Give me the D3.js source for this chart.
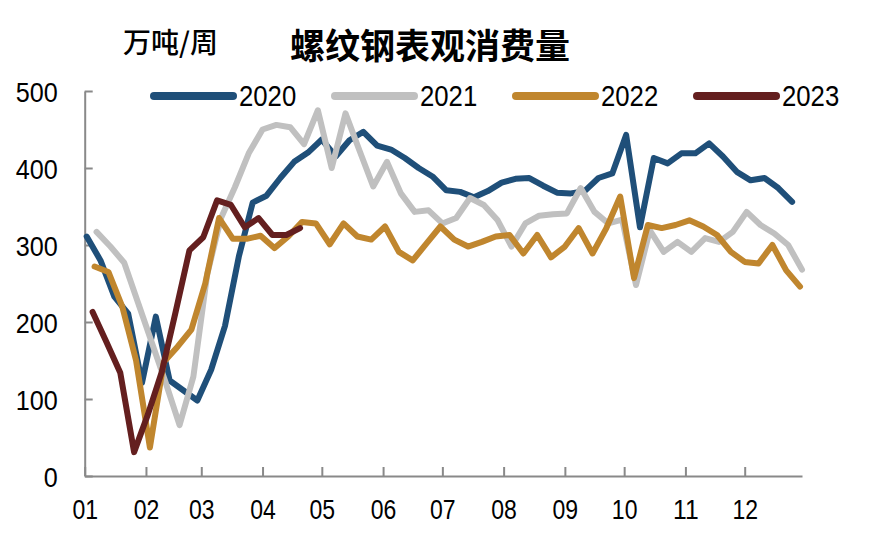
<!DOCTYPE html>
<html>
<head>
<meta charset="utf-8">
<script src="https://cdn.jsdelivr.net/npm/d3@7/dist/d3.min.js"></script>
<style>
  html, body { margin: 0; padding: 0; background: #fff; }
  svg { display: block; }
  .num { font-family: "Liberation Sans", Arial, sans-serif; }
</style>
</head>
<body>
<svg id="chart" width="874" height="543"></svg>
<script>
// ---- data ----
const title = "螺纹钢表观消费量";
const unit = "万吨/周";
const monthLabels = ["01","02","03","04","05","06","07","08","09","10","11","12"];
const yTicks = [0, 100, 200, 300, 400, 500];
const seriesNames = ["2020", "2021", "2022", "2023"];
const seriesColors = ["#1F4F79", "#C0C0C0", "#C0862E", "#641F1F"];
// first weekly observation day in January of each year (Thursdays)
const startDays = [2, 7, 6, 5];

const v2020 = [311, 280, 233, 211, 121, 207, 124, 111, 98, 138, 195, 285, 355, 364, 387, 408, 420, 437, 415, 436,
               447, 429, 424, 413, 400, 389, 371, 369, 362, 370, 381, 386, 387, 377, 368, 367, 370, 387, 393, 443,
               323, 413, 406, 419, 419, 432, 415, 395, 384, 387, 374, 356];
const v2021 = [317, 298, 277, 225, 173, 121, 66, 129, 262, 335, 375, 419, 450, 456, 453, 431, 475, 400, 471, 423,
               376, 408, 367, 343, 345, 328, 335, 361, 352, 332, 298, 328, 338, 340, 341, 374, 343, 328, 333, 248,
               319, 291, 304, 291, 309, 304, 317, 343, 326, 315, 300, 268];
const v2022 = [272, 265, 220, 150, 37, 148, 168, 190, 250, 335, 308, 308, 312, 296, 311, 330, 328, 301, 328, 311,
               307, 324, 291, 280, 302, 324, 307, 298, 304, 311, 313, 289, 313, 284, 298, 322, 289, 322, 363, 257,
               326, 322, 326, 332, 324, 313, 291, 278, 276, 300, 267, 246];
const v2023 = [213, 174, 134, 31, 80, 135, 213, 293, 310, 358, 352, 323, 335, 313, 313, 322];
const seriesValues = [v2020, v2021, v2022, v2023];

// ---- layout ----
const svg = d3.select("#chart");
const refYear = 2021;
const x = d3.scaleTime()
  .domain([new Date(refYear, 0, 1), new Date(refYear, 11, 30)])
  .range([84.7, 802]);
const y = d3.scaleLinear().domain([0, 500]).range([476, 91]);

const axisColor = "#898989";
// narrow digits, like the reference's condensed font
const narrow = (sel, perChar) => sel
  .attr("textLength", function () { return this.textContent.length * perChar; })
  .attr("lengthAdjust", "spacingAndGlyphs");

// x axis
const monthDates = monthLabels.map((m, i) => new Date(refYear, i, 1));
const gx = svg.append("g")
  .attr("transform", `translate(0,${y(0)})`)
  .call(d3.axisBottom(x)
    .tickValues(monthDates)
    .tickFormat((d, i) => monthLabels[i])
    .tickSizeInner(-9)
    .tickSizeOuter(0)
    .tickPadding(23));
gx.select(".domain").attr("stroke", axisColor).attr("stroke-width", 2);
gx.selectAll(".tick line").attr("stroke", axisColor).attr("stroke-width", 2);
gx.selectAll(".tick text").attr("class", "num").attr("font-size", 28).attr("fill", "#000")
  .call(narrow, 12.8);

// y axis
const gy = svg.append("g")
  .attr("transform", `translate(${x(new Date(refYear, 0, 1))},0)`)
  .call(d3.axisLeft(y)
    .tickValues(yTicks)
    .tickSizeInner(-8)
    .tickSizeOuter(0)
    .tickPadding(27));
gy.select(".domain").attr("stroke", axisColor).attr("stroke-width", 2);
gy.selectAll(".tick line").attr("stroke", axisColor).attr("stroke-width", 2);
gy.selectAll(".tick text").attr("class", "num").attr("font-size", 28).attr("fill", "#000").attr("dy", "0.36em")
  .call(narrow, 14);

// lines
const line = d3.line()
  .x(d => x(d.date))
  .y(d => y(d.value));

seriesNames.forEach((name, s) => {
  const pts = seriesValues[s].map((v, i) => ({ date: new Date(refYear, 0, startDays[s] + 7 * i), value: v }));
  svg.append("path")
    .datum(pts)
    .attr("fill", "none")
    .attr("stroke", seriesColors[s])
    .attr("stroke-width", 6)
    .attr("stroke-linejoin", "round")
    .attr("stroke-linecap", "round")
    .attr("d", line);
});

// legend
const legendX = d3.scaleLinear().domain([0, 1]).range([154, 335]);
const legend = svg.append("g");
seriesNames.forEach((name, s) => {
  const lx = legendX(s);
  legend.append("line")
    .attr("x1", lx).attr("x2", lx + 79)
    .attr("y1", 96).attr("y2", 96)
    .attr("stroke", seriesColors[s])
    .attr("stroke-width", 8)
    .attr("stroke-linecap", "round");
  legend.append("text")
    .attr("class", "num")
    .attr("x", lx + 85).attr("y", 96)
    .attr("dy", "0.36em")
    .attr("font-size", 29)
    .attr("fill", "#000")
    .text(name)
    .call(narrow, 14.3);
});

// titles
svg.append("text")
  .attr("x", 123).attr("y", 41)
  .attr("dominant-baseline", "central")
  .attr("font-family", "'Noto Sans CJK SC', sans-serif")
  .attr("font-weight", 500)
  .attr("font-size", 28)
  .attr("fill", "#000")
  .text(unit);

svg.append("text")
  .attr("x", 430).attr("y", 43)
  .attr("text-anchor", "middle")
  .attr("dominant-baseline", "central")
  .attr("font-family", "'Noto Sans CJK SC', sans-serif")
  .attr("font-weight", "bold")
  .attr("font-size", 35)
  .attr("fill", "#000")
  .text(title);
</script>
</body>
</html>
